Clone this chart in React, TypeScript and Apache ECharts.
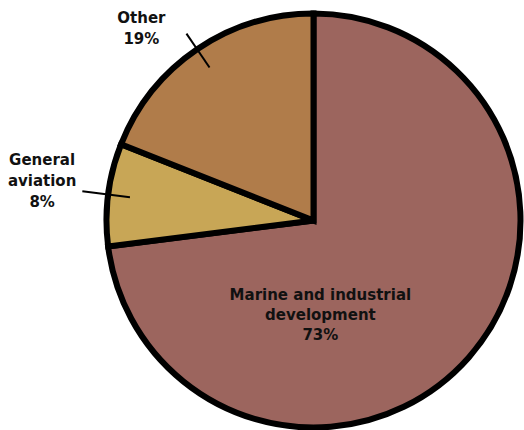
import React, { useEffect, useRef } from 'react';
import * as echarts from 'echarts';

const categories = ['Marine and industrial development', 'General aviation', 'Other'];
const labelLines = [['Marine and industrial', 'development'], ['General', 'aviation'], ['Other']];
const values = [73, 8, 19];
const colors = ['#9C655E', '#C8A656', '#B07C4A'];

export default function App() {
  const ref = useRef<HTMLDivElement>(null);
  useEffect(() => {
    document.body.style.margin = '0';
    const chart = echarts.init(ref.current!, null, { renderer: 'svg' });
    const font = { fontFamily: 'DejaVu Sans', fontWeight: 'bold' as const, fontSize: 15, color: '#111' };
    const fmt = (p: any) =>
      [...labelLines[p.dataIndex], `${values[p.dataIndex]}%`].map((t) => `{a|${t}}`).join('\n');
    const mainData = categories.map((name, i) => ({
      name,
      value: values[i],
      itemStyle: { color: colors[i] },
      label: { show: i === 0 },
    }));
    const outerLabel = [
      { show: false },
      { show: true, padding: [0, 0, 21, 0], distanceToLabelLine: 6 },
      { show: true, padding: [0, 0, 10, 0], distanceToLabelLine: 21 },
    ];
    const outerLine = [{ show: false }, { show: true, length: 48 }, { show: true, length: 41 }];
    const outerData = categories.map((name, i) => ({
      name,
      value: values[i],
      label: outerLabel[i],
      labelLine: outerLine[i],
    }));
    chart.setOption({
      animation: false,
      series: [
        {
          type: 'pie',
          z: 2,
          center: [313.5, 220.5],
          radius: 207,
          startAngle: 90,
          clockwise: true,
          avoidLabelOverlap: false,
          silent: true,
          emphasis: { disabled: true },
          itemStyle: { borderColor: '#000', borderWidth: 6, borderJoin: 'miter' },
          label: {
            position: 'inside',
            formatter: fmt,
            rich: { a: { ...font, lineHeight: 20, align: 'center' } },
            ...font,
          },
          labelLayout: () => ({ dx: -73, dy: 24 }),
          data: mainData,
        },
        {
          type: 'pie',
          z: 5,
          center: [313.5, 220.5],
          radius: 185,
          startAngle: 90,
          clockwise: true,
          avoidLabelOverlap: false,
          silent: true,
          emphasis: { disabled: true },
          itemStyle: { color: 'rgba(0,0,0,0)', borderWidth: 0 },
          label: {
            position: 'outside',
            formatter: fmt,
            rich: { a: { ...font, lineHeight: 21, align: 'center' } },
            ...font,
          },
          labelLine: { smooth: false, length2: 0, lineStyle: { color: '#000', width: 2 } },
          data: outerData,
        },
      ],
    });
    return () => chart.dispose();
  }, []);
  return <div ref={ref} style={{ width: 524, height: 430 }} />;
}
